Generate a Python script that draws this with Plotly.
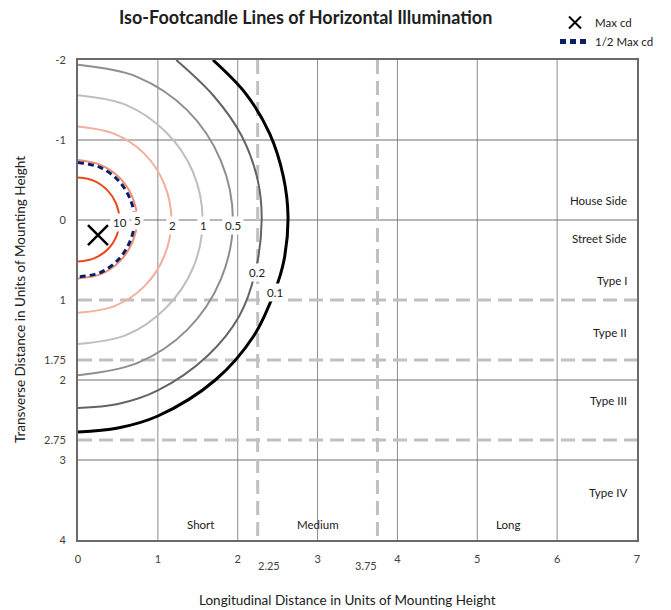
import plotly.graph_objects as go

# ---------------- data ----------------
x_ticks = [0, 1, 2, 3, 4, 5, 6, 7]
x_grid = [1, 2, 3, 4, 5, 6]
y_ticks = [-2, -1, 0, 1, 1.75, 2, 2.75, 3, 4]
y_grid = [-1, 0, 2, 3]
x_dashed = [2.25, 3.75]
y_dashed = [1, 1.75, 2.75]

# iso-footcandle contour points
fc10_x = [0, 0.20, 0.37, 0.48, 0.52, 0.49, 0.38, 0.20, 0]
fc10_y = [-0.53, -0.49, -0.37, -0.20, 0.0, 0.18, 0.36, 0.48, 0.52]
fc5_x = [0, 0.28, 0.52, 0.68, 0.74, 0.68, 0.52, 0.28, 0]
fc5_y = [-0.75, -0.69, -0.53, -0.29, 0.0, 0.28, 0.52, 0.68, 0.73]
fc2_x = [0, 0.45, 0.83, 1.08, 1.17, 1.08, 0.83, 0.45, 0]
fc2_y = [-1.17, -1.08, -0.83, -0.45, 0.0, 0.45, 0.83, 1.08, 1.16]
fc1_x = [0, 0.60, 1.10, 1.44, 1.56, 1.44, 1.10, 0.60, 0]
fc1_y = [-1.56, -1.44, -1.10, -0.60, 0.0, 0.60, 1.10, 1.44, 1.55]
fc05_x = [0, 0.74, 1.37, 1.79, 1.94, 1.79, 1.37, 0.74, 0]
fc05_y = [-1.94, -1.79, -1.37, -0.74, 0.0, 0.74, 1.37, 1.79, 1.94]
fc02_x = [1.23, 1.70, 2.05, 2.25, 2.30, 2.22, 2.02, 1.62, 1.00, 0.50, 0]
fc02_y = [-2.0, -1.55, -1.05, -0.50, 0.0, 0.65, 1.20, 1.70, 2.13, 2.30, 2.35]
fc01_x = [1.69, 2.10, 2.40, 2.57, 2.63, 2.58, 2.46, 2.20, 1.72, 1.00, 0.50, 0]
fc01_y = [-2.0, -1.58, -1.08, -0.55, -0.04, 0.50, 0.90, 1.45, 2.00, 2.45, 2.60, 2.65]

half_max_x = [0, 0.27, 0.50, 0.65, 0.71, 0.65, 0.50, 0.27, 0]
half_max_y = [-0.72, -0.66, -0.50, -0.27, 0.0, 0.27, 0.50, 0.66, 0.71]

max_cd_x = [0.25]
max_cd_y = [0.19]

iso_labels = ["10", "5", "2", "1", "0.5", "0.2", "0.1"]
iso_label_x = [0.53, 0.75, 1.18, 1.57, 1.94, 2.24, 2.47]
iso_label_y = [0.03, 0.01, 0.07, 0.07, 0.07, 0.65, 0.90]

region_labels = ["House Side", "Street Side", "Type I", "Type II", "Type III", "Type IV"]
region_y = [-0.24, 0.23, 0.76, 1.40, 2.26, 3.40]
range_labels = ["Short", "Medium", "Long"]
range_x = [1.53, 3.01, 5.38]
range_y = 3.81

# ---------------- style ----------------
FONT = "Lato"
TXT = "#404040"
curves = [
    (fc10_x, fc10_y, "#E8491D", 2),
    (fc5_x, fc5_y, "#EF8C76", 2),
    (fc2_x, fc2_y, "#F4AE9E", 2),
    (fc1_x, fc1_y, "#BEBEBE", 2),
    (fc05_x, fc05_y, "#8E8E8E", 2),
    (fc02_x, fc02_y, "#636363", 2),
    (fc01_x, fc01_y, "#000000", 3),
]

fig = go.Figure()

for cx, cy, col, w in curves:
    fig.add_trace(go.Scatter(x=cx, y=cy, mode="lines", showlegend=False,
                             line=dict(color=col, width=w, shape="spline", smoothing=1.0),
                             hoverinfo="skip"))

fig.add_trace(go.Scatter(x=half_max_x, y=half_max_y, mode="lines", name="1/2 Max cd",
                         line=dict(color="#0B1F66", width=3, dash="6px,4px",
                                   shape="spline", smoothing=1.0)))

fig.add_trace(go.Scatter(x=max_cd_x, y=max_cd_y, mode="markers", name="Max cd",
                         marker=dict(symbol="x-thin", size=20, color="black",
                                     line=dict(color="black", width=2.5))))

shapes = []
for gx in x_grid:
    shapes.append(dict(type="line", xref="x", yref="y", x0=gx, x1=gx, y0=-2, y1=4,
                       line=dict(color="#8C8C8C", width=1), layer="below"))
for gy in y_grid:
    shapes.append(dict(type="line", xref="x", yref="y", x0=0, x1=7, y0=gy, y1=gy,
                       line=dict(color="#707070", width=1), layer="below"))
for dx in x_dashed:
    shapes.append(dict(type="line", xref="x", yref="y", x0=dx, x1=dx, y0=-2, y1=4,
                       line=dict(color="#C0C0C0", width=3, dash="14px,7px"), layer="below"))
for dy in y_dashed:
    shapes.append(dict(type="line", xref="x", yref="y", x0=0, x1=7, y0=dy, y1=dy,
                       line=dict(color="#C0C0C0", width=3, dash="14px,7px"), layer="below"))

annotations = []
for t, ax_, ay_ in zip(iso_labels, iso_label_x, iso_label_y):
    annotations.append(dict(x=ax_, y=ay_, xref="x", yref="y", text=t, showarrow=False,
                            font=dict(family=FONT, size=11.5, color="#202020"),
                            bgcolor="white", borderpad=2))
for t, ry in zip(region_labels, region_y):
    annotations.append(dict(x=6.9, y=ry, xref="x", yref="y", text=t, showarrow=False,
                            xanchor="right", font=dict(family=FONT, size=11.5, color="#202020")))
for t, rx in zip(range_labels, range_x):
    annotations.append(dict(x=rx, y=range_y, xref="x", yref="y", text=t, showarrow=False,
                            font=dict(family=FONT, size=11.5, color="#202020")))
# offset tick labels for the dashed lines
for dx, sh in zip(x_dashed, [11, -11]):
    annotations.append(dict(x=dx, y=0, xref="x", yref="paper",
                            text=str(dx), showarrow=False,
                            yanchor="top", yshift=-17, xshift=sh,
                            font=dict(family=FONT, size=11, color=TXT)))
annotations.append(dict(x=(347 - 78) / 559, y=-(600 - 540) / 480, xref="paper", yref="paper",
                        text="Longitudinal Distance in Units of Mounting Height", showarrow=False,
                        yanchor="middle", font=dict(family=FONT, size=13.5, color="#202020")))
annotations.append(dict(x=-(78 - 20) / 559, y=(540 - 300) / 480, xref="paper", yref="paper",
                        text="Transverse Distance in Units of Mounting Height", showarrow=False,
                        textangle=-90, xanchor="center", yanchor="middle",
                        font=dict(family=FONT, size=13.5, color="#202020")))
annotations.append(dict(x=(305 - 78) / 559, y=(540 - 17) / 480, xref="paper", yref="paper",
                        text="<b>Iso-Footcandle Lines of Horizontal Illumination</b>",
                        showarrow=False, yanchor="middle",
                        font=dict(family=FONT, size=18, color="#202020")))

fig.update_layout(
    width=671, height=610,
    margin=dict(l=78, r=34, t=60, b=70, autoexpand=False),
    paper_bgcolor="white", plot_bgcolor="white",
    font=dict(family=FONT, size=11, color=TXT),
    shapes=shapes, annotations=annotations,
    legend=dict(x=(555 - 78) / 559, y=(540 - 8) / 480, xanchor="left", yanchor="top",
                bgcolor="rgba(0,0,0,0)", font=dict(family=FONT, size=11.5, color="#202020"),
                traceorder="reversed", itemsizing="constant", tracegroupgap=0),
    xaxis=dict(range=[0, 7], tickvals=x_ticks, showgrid=False, zeroline=False,
               showline=True, mirror=True, linecolor="#6A6A6A", linewidth=2,
               ticks="", ticklabelstandoff=8, tickfont=dict(family=FONT, size=11, color=TXT)),
    yaxis=dict(range=[4, -2], tickvals=y_ticks, ticktext=[str(v) for v in y_ticks],
               showgrid=False, zeroline=False,
               showline=True, mirror=True, linecolor="#6A6A6A", linewidth=2,
               ticks="", ticklabelstandoff=8, tickfont=dict(family=FONT, size=11, color=TXT)),
)

fig.write_html("out.html", post_script="document.body.style.margin='0';",
               config={"displayModeBar": False})
